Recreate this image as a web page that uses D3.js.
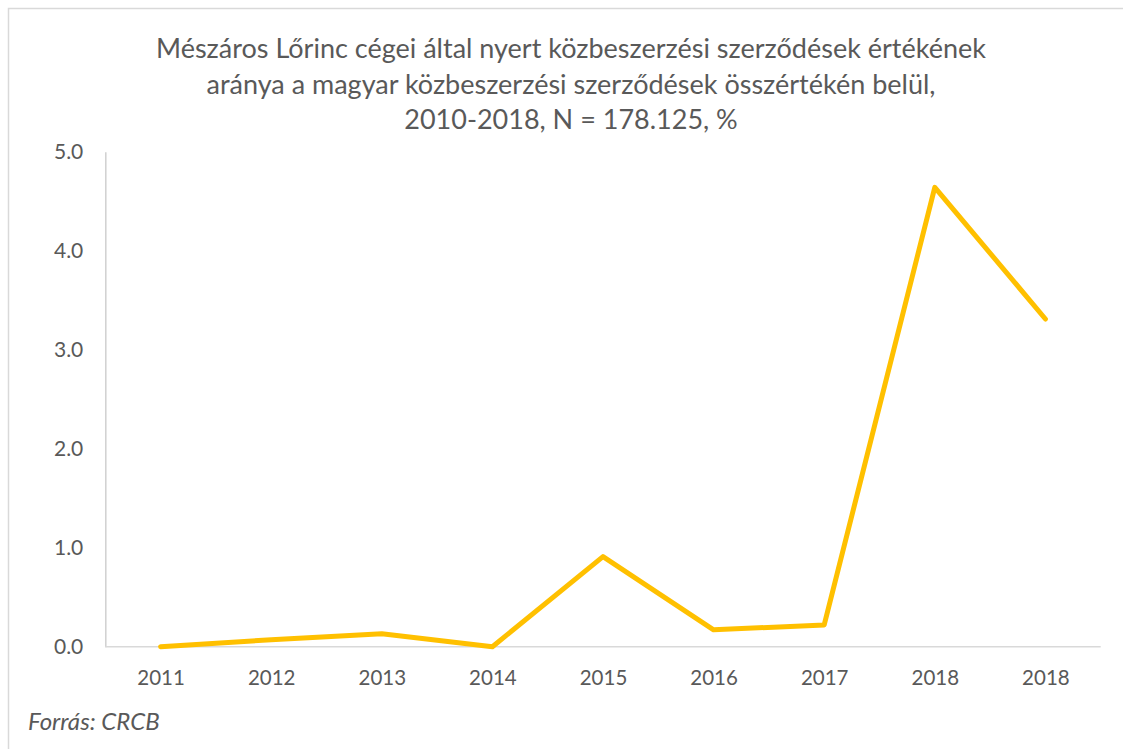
<!DOCTYPE html>
<html><head><meta charset="utf-8">
<script src="https://cdn.jsdelivr.net/npm/d3@7"></script>
<style>
html,body{margin:0;padding:0;background:#fff;}
svg{display:block;font-family:Lato,"Open Sans",sans-serif;}
</style></head>
<body>
<svg id="c" width="1123" height="749"></svg>
<script>
const categories = ["2011","2012","2013","2014","2015","2016","2017","2018","2018"];
const values = [0.0, 0.07, 0.13, 0.0, 0.91, 0.17, 0.22, 4.64, 3.31];
const yTicks = [0, 1, 2, 3, 4, 5];
const titleLines = [
  "Mészáros Lőrinc cégei által nyert közbeszerzési szerződések értékének",
  "aránya a magyar közbeszerzési szerződések összértékén belül,",
  "2010-2018, N = 178.125, %"
];
const sourceText = "Forrás: CRCB";

(function () {
const svg = d3.select("#c");
const textColor = "#595959";

// outer border
svg.append("rect").attr("x", 8.5).attr("y", 8.5).attr("width", 1130).attr("height", 760)
  .attr("fill", "#fff").attr("stroke", "#d9d9d9").attr("stroke-width", 1.5);

const pLeft = 105.3, pRight = 1100.7, pTop = 151.7, pBottom = 646.7;
const idx = categories.map((d, i) => i);
const x = d3.scalePoint().domain(idx).range([pLeft, pRight]).padding(0.5);
const y = d3.scaleLinear().domain([0, 5]).range([pBottom, pTop]);

// title
const title = svg.append("text").attr("text-anchor", "middle").attr("fill", textColor)
  .style("font-size", "27px");
titleLines.forEach((t, i) => {
  title.append("tspan").attr("x", 571).attr("y", 58 + i * 35.5).text(t);
});

// y axis
const yAxis = svg.append("g").attr("transform", `translate(${pLeft},0)`)
  .call(d3.axisLeft(y).tickValues(yTicks).tickFormat(d3.format(".1f")).tickSize(0).tickPadding(22));
yAxis.select(".domain").attr("stroke", "#d0d0d0").attr("stroke-width", 1.5);
yAxis.selectAll("text").attr("fill", textColor).style("font-size", "21px")
  .style("font-family", "Lato, sans-serif");

// x axis
const xAxis = svg.append("g").attr("transform", `translate(0,${pBottom})`)
  .call(d3.axisBottom(x).tickFormat(i => categories[i]).tickSize(0).tickPadding(24));
xAxis.select(".domain").attr("stroke", "#d9d9d9").attr("stroke-width", 1.5)
  .attr("d", `M${pLeft},0H${pRight}`);
xAxis.selectAll("text").attr("fill", textColor).style("font-size", "20.5px")
  .style("font-family", "Lato, sans-serif");

// line
const line = d3.line().x((d, i) => x(i)).y(d => y(d));
svg.append("path").datum(values).attr("d", line).attr("fill", "none")
  .attr("stroke", "#ffc000").attr("stroke-width", 5)
  .attr("stroke-linejoin", "round").attr("stroke-linecap", "round");

// source
svg.append("text").attr("x", 28).attr("y", 730).attr("fill", textColor)
  .style("font-size", "24px").style("font-style", "italic").text(sourceText);
})();
</script>
</body></html>
